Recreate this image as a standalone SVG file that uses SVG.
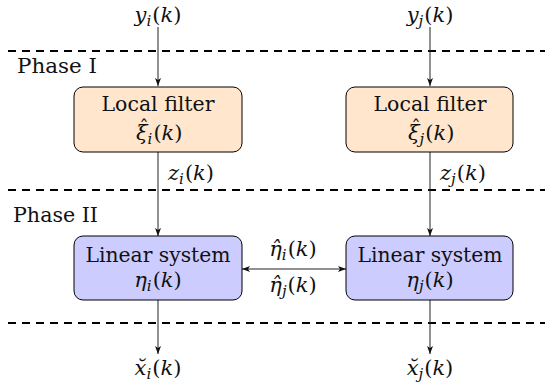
<svg xmlns="http://www.w3.org/2000/svg" width="545" height="389" viewBox="0 0 545 389">
<style>
text{font-family:"DejaVu Serif","Liberation Serif",serif;font-size:20.5px;fill:#111}
.m{font-size:21px}
.it{font-style:italic}
.sub{font-size:15px;font-style:italic}
.hat{font-size:19px;text-anchor:middle}
.dash{stroke:#000;stroke-width:2;stroke-dasharray:8 6;fill:none}
.conn{stroke:#222;stroke-width:1;fill:none}
.filt{fill:#FFE6CC;stroke:#000;stroke-width:1}
.lin{fill:#CCCCFF;stroke:#000;stroke-width:1}
</style>
<defs>
<marker id="ah" viewBox="0 0 8 6" refX="8" refY="3" markerWidth="8" markerHeight="6" orient="auto-start-reverse" markerUnits="userSpaceOnUse">
<path d="M0,0 L8,3 L0,6 L2,3 Z" fill="#111"/>
</marker>
</defs>
<g id="phases">
<line class="dash" x1="8" y1="51" x2="545" y2="51"/>
<line class="dash" x1="8" y1="190" x2="545" y2="190"/>
<line class="dash" x1="8" y1="323" x2="545" y2="323"/>
<text x="17" y="73" textLength="80" lengthAdjust="spacingAndGlyphs">Phase I</text>
<text x="13" y="222" textLength="85" lengthAdjust="spacingAndGlyphs">Phase II</text>
</g>
<g id="connectors">
<line class="conn" x1="158" y1="27" x2="158" y2="86" marker-end="url(#ah)"/>
<line class="conn" x1="430" y1="27" x2="430" y2="86" marker-end="url(#ah)"/>
<line class="conn" x1="158" y1="152" x2="158" y2="236" marker-end="url(#ah)"/>
<line class="conn" x1="430" y1="152" x2="430" y2="236" marker-end="url(#ah)"/>
<line class="conn" x1="158" y1="300" x2="158" y2="354" marker-end="url(#ah)"/>
<line class="conn" x1="430" y1="300" x2="430" y2="354" marker-end="url(#ah)"/>
<line class="conn" x1="242" y1="269" x2="346" y2="269" marker-start="url(#ah)" marker-end="url(#ah)"/>
<text class="m" x="158" y="22" text-anchor="middle"><tspan class="it">y</tspan><tspan class="sub" dy="4">i</tspan><tspan dy="-4" dx="1">(</tspan><tspan class="it">k</tspan>)</text>
<text class="m" x="430" y="22" text-anchor="middle"><tspan class="it">y</tspan><tspan class="sub" dy="4">j</tspan><tspan dy="-4" dx="1">(</tspan><tspan class="it">k</tspan>)</text>
<text class="m" x="168" y="180"><tspan class="it">z</tspan><tspan class="sub" dy="4">i</tspan><tspan dy="-4" dx="1">(</tspan><tspan class="it">k</tspan>)</text>
<text class="m" x="440" y="180"><tspan class="it">z</tspan><tspan class="sub" dy="4">j</tspan><tspan dy="-4" dx="1">(</tspan><tspan class="it">k</tspan>)</text>
<text class="m" x="293" y="256" text-anchor="middle"><tspan class="it">η̂</tspan><tspan class="sub" dy="4">i</tspan><tspan dy="-4" dx="1">(</tspan><tspan class="it">k</tspan>)</text>
<text class="m" x="293" y="292" text-anchor="middle"><tspan class="it">η̂</tspan><tspan class="sub" dy="4">j</tspan><tspan dy="-4" dx="1">(</tspan><tspan class="it">k</tspan>)</text>
<text class="m" x="158" y="375" text-anchor="middle"><tspan class="it">x̆</tspan><tspan class="sub" dy="4">i</tspan><tspan dy="-4" dx="1">(</tspan><tspan class="it">k</tspan>)</text>
<text class="m" x="430" y="375" text-anchor="middle"><tspan class="it">x̆</tspan><tspan class="sub" dy="4">j</tspan><tspan dy="-4" dx="1">(</tspan><tspan class="it">k</tspan>)</text>
</g>
<g id="filter_i">
<rect class="filt" x="74" y="87" width="168" height="65" rx="9"/>
<text x="158" y="111" text-anchor="middle" textLength="113" lengthAdjust="spacingAndGlyphs">Local filter</text>
<text class="m" x="136" y="140"><tspan class="it">ξ</tspan><tspan class="sub" dy="4">i</tspan><tspan dy="-4" dx="1">(</tspan><tspan class="it">k</tspan>)</text>
<text class="hat" x="144" y="134">ˆ</text>
</g>
<g id="filter_j">
<rect class="filt" x="346" y="87" width="167" height="65" rx="9"/>
<text x="430" y="111" text-anchor="middle" textLength="113" lengthAdjust="spacingAndGlyphs">Local filter</text>
<text class="m" x="408" y="140"><tspan class="it">ξ</tspan><tspan class="sub" dy="4">j</tspan><tspan dy="-4" dx="1">(</tspan><tspan class="it">k</tspan>)</text>
<text class="hat" x="416" y="134">ˆ</text>
</g>
<g id="linear_i">
<rect class="lin" x="74" y="236" width="168" height="64" rx="9"/>
<text x="158" y="262" text-anchor="middle" textLength="145" lengthAdjust="spacingAndGlyphs">Linear system</text>
<text class="m" x="158" y="287" text-anchor="middle"><tspan class="it">η</tspan><tspan class="sub" dy="4">i</tspan><tspan dy="-4" dx="1">(</tspan><tspan class="it">k</tspan>)</text>
</g>
<g id="linear_j">
<rect class="lin" x="346" y="236" width="167" height="64" rx="9"/>
<text x="430" y="262" text-anchor="middle" textLength="145" lengthAdjust="spacingAndGlyphs">Linear system</text>
<text class="m" x="430" y="287" text-anchor="middle"><tspan class="it">η</tspan><tspan class="sub" dy="4">j</tspan><tspan dy="-4" dx="1">(</tspan><tspan class="it">k</tspan>)</text>
</g>
</svg>
